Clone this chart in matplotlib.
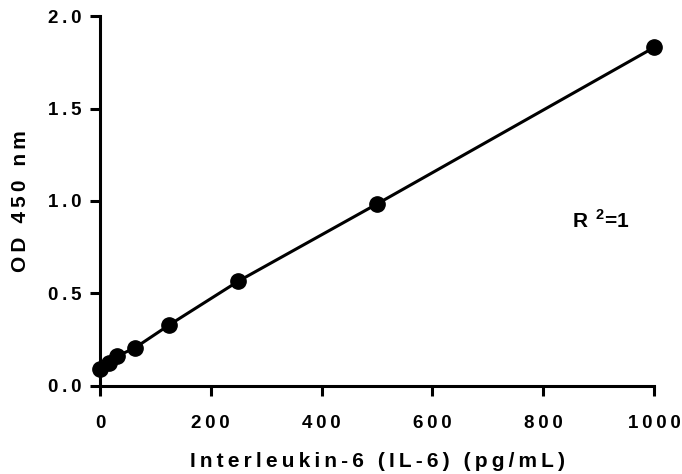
import matplotlib
matplotlib.use('Agg')
import matplotlib.pyplot as plt

# IL-6 standard curve
conc = [0, 15.6, 31.25, 62.5, 125, 250, 500, 1000]
od = [0.092, 0.124, 0.162, 0.205, 0.33, 0.567, 0.984, 1.83]
xticks = [0, 200, 400, 600, 800, 1000]
yticks = [0.0, 0.5, 1.0, 1.5, 2.0]
xlabel = 'Interleukin-6 (IL-6) (pg/mL)'
ylabel = 'OD 450 nm'

plt.rcParams['font.family'] = ['Liberation Sans', 'DejaVu Sans']
plt.rcParams['font.weight'] = 'bold'
plt.rcParams['mathtext.fontset'] = 'custom'
plt.rcParams['mathtext.bf'] = 'Liberation Sans:bold'
plt.rcParams['mathtext.rm'] = 'Liberation Sans:bold'


def spaced(s, sep='\u2009'):
    """Prism-style wide letter spacing."""
    return sep.join(s)


fig = plt.figure(figsize=(6.82, 4.74), dpi=100)
ax = fig.add_axes([0.1466, 0.1857, 0.8124, 0.7805])

ax.plot(conc, od, color='black', lw=2.2, marker='o', ms=11, clip_on=False, zorder=3)

ax.set_xlim(0, 1000)
ax.set_ylim(0, 2.0)
ax.set_xticks(xticks)
ax.set_xticklabels([spaced(str(t)) for t in xticks])
ax.set_yticks(yticks)
ax.set_yticklabels([spaced('%.1f' % t) for t in yticks])

for s in ['top', 'right']:
    ax.spines[s].set_visible(False)
for s in ['left', 'bottom']:
    ax.spines[s].set_linewidth(2.2)
ax.tick_params(width=2.2, length=7.2, labelsize=13.5)
ax.tick_params(axis='x', pad=14)
ax.tick_params(axis='y', pad=6)

ax.set_xlabel(spaced(xlabel), fontsize=15, fontweight='bold', labelpad=14)
ax.set_ylabel(spaced(ylabel), fontsize=15, fontweight='bold', labelpad=13)

ax.text(852, 0.897, 'R\u2009\u2009$^{\\mathbf{2}}$=1', fontsize=15, fontweight='bold', va='center')

fig.savefig('out.png', dpi=100)
